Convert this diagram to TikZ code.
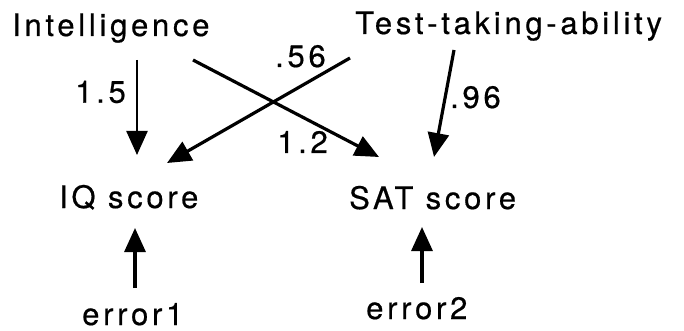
\documentclass[tikz,border=0pt]{standalone}
\usepackage{fontspec}
\setmainfont{TeX Gyre Heros}[LetterSpace=12, FakeBold=0.5]
\usetikzlibrary{arrows.meta,calc}
\begin{document}
\begin{tikzpicture}[x=1pt, y=-1pt,
  every node/.style={inner sep=0pt, anchor=base west, font=\fontsize{31}{36}\selectfont},
  arr/.style={line width=3.2pt, -{Triangle[length=24pt,width=21pt]}}]
\useasboundingbox (0,0) rectangle (684,331);
\node (intel) at (12,36) {Intelligence};
\node (test) at (355,34) {Test-taking-ability};
\node (iq) at (59,208) {IQ score};
\node (sat) at (349,209) {SAT score};
\node (err1) at (82,325) {error1};
\node (err2) at (366,319) {error2};

\draw [arr, line width=2.4pt] ($(intel.base west)+(125,24)$) -- ($(iq.base west)+(78,-53)$) node[pos=0.45, anchor=base east, xshift=-10pt] (b15) {1.5};
\draw [arr] ($(intel.base west)+(181,24)$) -- ($(sat.base west)+(30,-52)$);
\draw [arr] ($(test.base west)+(-5,24)$) -- ($(iq.base west)+(108,-45)$);
\draw [arr] ($(test.base west)+(99,16)$) -- ($(sat.base west)+(85,-52)$);
\draw [arr] ($(err1.base west)+(53,-37)$) -- ($(iq.base west)+(76,20)$);
\draw [arr] ($(err2.base west)+(56,-36)$) -- ($(sat.base west)+(73,18)$);

\node (b56) at (275,67) {.56};
\node (b12) at (277,153) {1.2};
\node (b96) at (450,108) {.96};
\end{tikzpicture}
\end{document}
